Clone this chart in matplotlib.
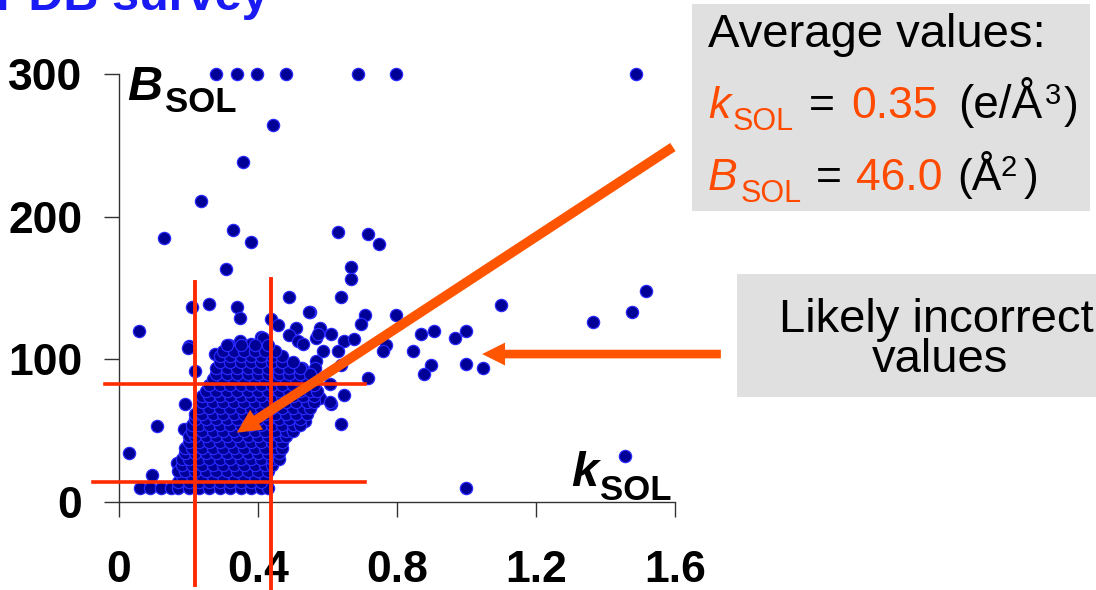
import matplotlib
matplotlib.use('Agg')
import matplotlib.pyplot as plt
from matplotlib.patches import Rectangle, FancyArrowPatch, ArrowStyle

plt.rcParams['font.family'] = ['Liberation Sans', 'DejaVu Sans']

# ---- data ----
k_ticks = [0, 0.4, 0.8, 1.2, 1.6]
k_tick_labels = ['0', '0.4', '0.8', '1.2', '1.6']
b_ticks = [0, 100, 200, 300]
b_tick_labels = ['0', '100', '200', '300']

# scattered structures (k_sol, B_sol)
sparse_k = [0.279, 0.339, 0.397, 0.481, 0.688, 0.797, 1.488,
            0.443, 0.357, 0.236, 0.129, 0.328, 0.380, 0.308,
            0.489, 0.210, 0.259, 0.340, 0.348, 0.058, 0.550,
            0.201, 0.317, 0.380, 0.437, 0.458, 0.509, 0.409,
            0.489, 0.515, 0.530,
            0.630, 0.717, 0.748, 0.668, 0.668, 0.639, 0.547,
            0.708, 0.696, 0.797, 0.578, 0.567, 0.610, 0.648,
            0.676, 0.869, 0.906, 0.967, 0.999, 1.100, 0.768,
            0.846, 0.898, 0.878, 0.999, 1.047, 1.364, 1.476,
            1.517, 1.456, 0.999, 0.760, 0.716, 0.639, 0.610,
            0.648, 0.578, 0.547, 0.535, 0.630, 0.587, 0.567,
            0.564, 0.639, 0.607, 0.527, 0.607, 0.573, 0.414,
            0.348, 0.276,
            0.219, 0.199, 0.109, 0.029, 0.095, 0.166, 0.187, 0.19]
sparse_b = [300, 300, 300, 300, 300, 300, 300,
            264, 238, 211, 185, 191, 182, 163,
            144, 137, 139, 137, 129, 120, 133,
            109, 110, 111, 128, 124, 122, 116,
            117, 113, 111,
            189, 188, 181, 165, 156, 144, 133,
            131, 125, 131, 122, 115, 118, 113,
            114, 118, 120, 115, 120, 138, 110,
            106, 96, 90, 97, 94, 126, 133,
            148, 32, 10, 106, 87, 55, 69,
            75, 73, 71, 57, 106, 106, 99,
            94, 96, 83, 94, 70, 118, 115,
            113, 104,
            92, 108, 53, 34, 19, 27, 51, 69]

# dense core: one row of k values per B level
core_b = [10, 14, 18, 22, 26, 30, 34, 38, 42, 46, 50, 54, 58, 62,
          66, 70, 74, 78, 82, 86, 90, 94, 98, 102, 106, 110]
core_k = [
    [0.06, 0.09, 0.12, 0.15, 0.17, 0.20, 0.23, 0.26, 0.29, 0.32, 0.35, 0.38, 0.41, 0.43],
    [0.17, 0.20, 0.23, 0.26, 0.29, 0.32, 0.35, 0.38, 0.41],
    [0.18, 0.21, 0.24, 0.27, 0.30, 0.33, 0.36, 0.39, 0.42],
    [0.17, 0.19, 0.22, 0.25, 0.28, 0.31, 0.34, 0.37, 0.40, 0.43],
    [0.18, 0.21, 0.24, 0.27, 0.30, 0.33, 0.36, 0.39, 0.42, 0.44],
    [0.18, 0.20, 0.23, 0.26, 0.29, 0.32, 0.35, 0.38, 0.41, 0.44, 0.46],
    [0.19, 0.22, 0.25, 0.28, 0.31, 0.34, 0.37, 0.40, 0.43, 0.46],
    [0.19, 0.21, 0.24, 0.27, 0.30, 0.33, 0.36, 0.39, 0.42, 0.45, 0.47],
    [0.20, 0.23, 0.26, 0.29, 0.32, 0.35, 0.38, 0.41, 0.44, 0.47],
    [0.20, 0.22, 0.25, 0.28, 0.31, 0.34, 0.37, 0.40, 0.43, 0.46, 0.48],
    [0.21, 0.24, 0.27, 0.30, 0.33, 0.36, 0.39, 0.42, 0.45, 0.48, 0.50],
    [0.21, 0.23, 0.26, 0.29, 0.32, 0.35, 0.38, 0.41, 0.44, 0.47, 0.50, 0.52],
    [0.22, 0.25, 0.28, 0.31, 0.34, 0.37, 0.40, 0.43, 0.46, 0.49, 0.52],
    [0.22, 0.24, 0.27, 0.30, 0.33, 0.36, 0.39, 0.42, 0.45, 0.48, 0.51, 0.54],
    [0.23, 0.26, 0.29, 0.32, 0.35, 0.38, 0.41, 0.44, 0.47, 0.50, 0.53, 0.55],
    [0.24, 0.27, 0.30, 0.33, 0.36, 0.39, 0.42, 0.45, 0.48, 0.51, 0.54, 0.56],
    [0.24, 0.26, 0.29, 0.32, 0.35, 0.38, 0.41, 0.44, 0.47, 0.50, 0.53, 0.56],
    [0.25, 0.28, 0.31, 0.34, 0.37, 0.40, 0.43, 0.46, 0.49, 0.52, 0.55, 0.57],
    [0.26, 0.29, 0.32, 0.35, 0.38, 0.41, 0.44, 0.47, 0.50, 0.53, 0.56],
    [0.27, 0.30, 0.33, 0.36, 0.39, 0.42, 0.45, 0.48, 0.51, 0.54],
    [0.28, 0.31, 0.34, 0.37, 0.40, 0.43, 0.46, 0.49, 0.52, 0.55],
    [0.28, 0.31, 0.34, 0.37, 0.40, 0.43, 0.46, 0.49, 0.52],
    [0.29, 0.32, 0.35, 0.38, 0.41, 0.44, 0.47, 0.50],
    [0.29, 0.32, 0.35, 0.38, 0.41, 0.44, 0.47],
    [0.30, 0.33, 0.36, 0.39, 0.42, 0.45],
    [0.31, 0.35, 0.39, 0.43],
]

# red guide lines
guide_k = [0.220, 0.437]
guide_k_span = [(-58, 154), (-63, 156)]
guide_b = [82.7, 14.2]
guide_b_span = [(-0.040, 0.708), (-0.075, 0.708)]

# arrows (tail, tip) in data units
arrow_avg = [(1.594, 248.8), (0.339, 48.6)]
arrow_bad = [(1.732, 103.7), (1.045, 103.7)]

k_avg_text = '0.35'
b_avg_text = '46.0'

# ---- figure ----
W, H = 1096, 590
def fp(x, y):
    return (x / W, 1 - y / H)

ORANGE = '#ff4a00'
ARROW = '#ff5500'
RED = '#ff2a00'
GREY = '#e0e0e0'

fig = plt.figure(figsize=(W / 100, H / 100), dpi=100)
ax = fig.add_axes([119 / W, 1 - 502 / H, 556 / W, 428 / H])

all_k = list(sparse_k)
all_b = list(sparse_b)
for b, ks in zip(core_b, core_k):
    all_k += ks
    all_b += [b] * len(ks)

ax.scatter(all_k, all_b, s=78, facecolor='#000096', edgecolor='#2a2aff',
           linewidths=0.9, clip_on=False, zorder=3)

for k, (b0, b1) in zip(guide_k, guide_k_span):
    ax.plot([k, k], [b0, b1], color=RED, lw=2.8, clip_on=False, zorder=4)
for b, (k0, k1) in zip(guide_b, guide_b_span):
    ax.plot([k0, k1], [b, b], color=RED, lw=2.6, clip_on=False, zorder=4)

ax.add_patch(FancyArrowPatch(arrow_avg[0], arrow_avg[1],
             arrowstyle=ArrowStyle.Simple(head_length=17, head_width=17, tail_width=7),
             mutation_scale=1, color=ARROW, lw=0, shrinkA=0, shrinkB=0,
             clip_on=False, zorder=5))
ax.add_patch(FancyArrowPatch(arrow_bad[0], arrow_bad[1],
             arrowstyle=ArrowStyle.Simple(head_length=16.5, head_width=16.5, tail_width=6.2),
             mutation_scale=1, color=ARROW, lw=0, shrinkA=0, shrinkB=0,
             clip_on=False, zorder=5))

ax.set_xlim(0, 1.6)
ax.set_ylim(0, 300)
ax.set_xticks(k_ticks)
ax.set_xticklabels(k_tick_labels, fontsize=32, fontweight='bold')
ax.set_yticks(b_ticks)
ax.set_yticklabels(b_tick_labels, fontsize=32, fontweight='bold')
ax.tick_params(direction='out', length=10.8, width=1, color='#333333')
ax.tick_params(axis='x', pad=24)
ax.tick_params(axis='y', pad=15.5)
for s in ['top', 'right']:
    ax.spines[s].set_visible(False)
for s in ['left', 'bottom']:
    ax.spines[s].set_color('#333333')
    ax.spines[s].set_linewidth(1)
ax.patch.set_visible(False)

# title (cut by the top edge)
fig.text(*fp(-3.5, 10), 'PDB survey', color='#1a1af5', fontsize=35,
         fontweight='bold', va='baseline')

# axis labels
fig.text(*fp(127, 100), 'B', fontsize=35, fontweight='bold', fontstyle='italic', va='baseline')
fig.text(*fp(165, 112), 'SOL', fontsize=25, fontweight='bold', va='baseline')
fig.text(*fp(571, 486), 'k', fontsize=35, fontweight='bold', fontstyle='italic', va='baseline')
fig.text(*fp(600, 500), 'SOL', fontsize=25, fontweight='bold', va='baseline')

# grey boxes
fig.add_artist(Rectangle(fp(692, 211), 398 / W, 207 / H, transform=fig.transFigure,
                         facecolor=GREY, edgecolor='none'))
fig.add_artist(Rectangle(fp(737, 397), 359 / W, 123 / H, transform=fig.transFigure,
                         facecolor=GREY, edgecolor='none'))

fig.text(*fp(708, 47), 'Average values:', fontsize=34, va='baseline')
fig.text(*fp(708, 118), 'k', fontsize=32, fontstyle='italic', color=ORANGE, va='baseline')
fig.text(*fp(733, 130), 'SOL', fontsize=22, color=ORANGE, va='baseline')
fig.text(*fp(809, 118), '=', fontsize=32, va='baseline')
fig.text(*fp(851, 118), k_avg_text, fontsize=32, color=ORANGE, va='baseline')
fig.text(*fp(958, 118), '(e/Å', fontsize=33, va='baseline')
fig.text(*fp(1045, 104), '3', fontsize=21, va='baseline')
fig.text(*fp(1064, 118), ')', fontsize=32, va='baseline')

fig.text(*fp(708, 190), 'B', fontsize=32, fontstyle='italic', color=ORANGE, va='baseline')
fig.text(*fp(741, 202), 'SOL', fontsize=22, color=ORANGE, va='baseline')
fig.text(*fp(816, 190), '=', fontsize=32, va='baseline')
fig.text(*fp(856, 190), b_avg_text, fontsize=32, color=ORANGE, va='baseline')
fig.text(*fp(957, 190), '(Å', fontsize=32, va='baseline')
fig.text(*fp(1001, 176), '2', fontsize=21, va='baseline')
fig.text(*fp(1024, 190), ')', fontsize=32, va='baseline')

fig.text(*fp(936, 332), 'Likely incorrect', fontsize=34, ha='center', va='baseline')
fig.text(*fp(940, 372), 'values', fontsize=34, ha='center', va='baseline')

fig.savefig('out.png', dpi=100)
